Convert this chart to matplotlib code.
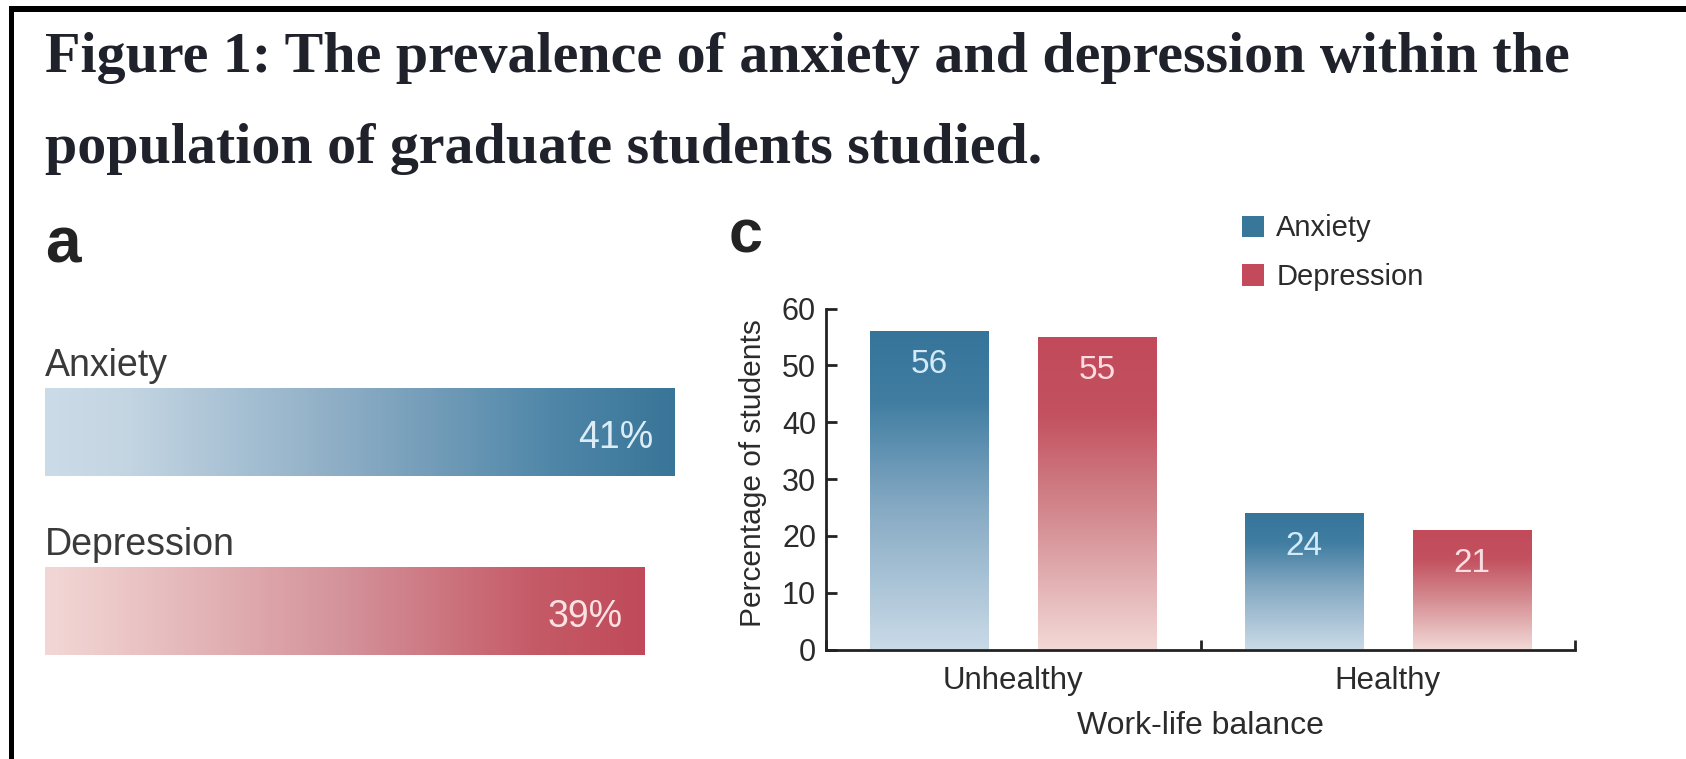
import numpy as np
import matplotlib
matplotlib.use("Agg")
import matplotlib.pyplot as plt
from matplotlib.colors import LinearSegmentedColormap
from matplotlib.patches import Patch, Rectangle
from matplotlib import font_manager as fm

# ---------------- data ----------------
overall_labels = ["Anxiety", "Depression"]
overall_values = [41, 39]

groups = ["Unhealthy", "Healthy"]
anxiety_by_balance = [56, 24]
depression_by_balance = [55, 21]

title_lines = ["Figure 1: The prevalence of anxiety and depression within the",
               "population of graduate students studied."]
y_ticks = [0, 10, 20, 30, 40, 50, 60]

# ---------------- style ----------------
W, H = 1686, 759
names = {f.name for f in fm.fontManager.ttflist}
SANS = "Liberation Sans" if "Liberation Sans" in names else "DejaVu Sans"
SERIF = "Liberation Serif" if "Liberation Serif" in names else "DejaVu Serif"
plt.rcParams["font.family"] = [SANS, "DejaVu Sans"]

BLUE_DARK = "#38769a"
RED_DARK = "#c24a5a"
cm_blue_v = LinearSegmentedColormap.from_list(
    "bv", [(0, "#c9dae7"), (0.45, "#85a9c3"), (0.78, "#407da1"), (1, "#37749a")])
cm_red_v = LinearSegmentedColormap.from_list(
    "rv", [(0, "#f2d8d6"), (0.45, "#d2868c"), (0.75, "#c3515f"), (1, "#c24a5a")])
cm_blue_h = LinearSegmentedColormap.from_list(
    "bh", [(0, "#cbdbe7"), (0.12, "#c5d6e3"), (0.5, "#88aac3"), (0.82, "#4d85a7"), (1, "#397598")])
cm_red_h = LinearSegmentedColormap.from_list(
    "rh", [(0, "#f2d7d6"), (0.12, "#ecc8c8"), (0.5, "#d4929a"), (0.82, "#c55a67"), (1, "#c04a59")])


def fx(px):
    return px / W


def fy(py):
    return 1 - py / H


def grad_fill(ax, patch, cmap, horizontal):
    x0, y0 = patch.get_x(), patch.get_y()
    w, h = patch.get_width(), patch.get_height()
    g = np.linspace(0, 1, 256)
    arr = g[None, :] if horizontal else g[:, None]
    im = ax.imshow(arr, cmap=cmap, extent=(x0, x0 + w, y0, y0 + h), origin="lower",
                   aspect="auto", interpolation="bicubic", zorder=2)
    im.set_clip_path(patch)
    patch.set_facecolor("none")
    patch.set_edgecolor("none")


fig = plt.figure(figsize=(W / 100, H / 100), dpi=100)

# frame lines (top and left)
fig.add_artist(Rectangle((fx(9), fy(12)), 1 - fx(9), 6 / H, transform=fig.transFigure,
                         color="black", lw=0))
fig.add_artist(Rectangle((fx(9), 0), 5 / W, fy(6), transform=fig.transFigure,
                         color="black", lw=0))

# title
t1 = fig.text(fx(45), fy(72), title_lines[0], family=SERIF, fontweight="bold",
              fontsize=40, color="#1f222b", va="baseline", ha="left")
t2 = fig.text(fx(45), fy(163), title_lines[1], family=SERIF, fontweight="bold",
              fontsize=40, color="#1f222b", va="baseline", ha="left")
fig.canvas.draw()
r = fig.canvas.get_renderer()
wpx = t1.get_window_extent(r).width
fs = 40 * 1522 / wpx
t1.set_fontsize(fs)
t2.set_fontsize(fs)

# panel letters
fig.text(fx(45), fy(262), "a", fontweight="bold", fontsize=46,
         color="#232323", va="baseline", ha="left")
fig.text(fx(729), fy(253), "c", fontweight="bold", fontsize=44,
         color="#232323", va="baseline", ha="left")

# ---------------- panel a ----------------
axa = fig.add_axes([fx(45), fy(700.5), 768 / W, 358 / H])
axa.set_xlim(0, 50)
axa.set_ylim(1.5, -0.5)
axa.axis("off")
ypos = np.arange(len(overall_labels))
bars_a = axa.barh(ypos, overall_values, height=0.49, left=0)
for p, cm in zip(bars_a.patches, [cm_blue_h, cm_red_h]):
    grad_fill(axa, p, cm, horizontal=True)
axa.set_xlim(0, 50)
axa.set_ylim(1.5, -0.5)
val_colors_a = ["#dcedf7", "#fbe1e4"]
for i, (lab, v) in enumerate(zip(overall_labels, overall_values)):
    axa.annotate(lab, xy=(0, i), xytext=(0, 47.5), textcoords="offset points",
                 ha="left", va="center", fontsize=27, color="#3a3a3a")
    axa.annotate(f"{v}%", xy=(v, i), xytext=(-15.5, -4.5), textcoords="offset points",
                 ha="right", va="center", fontsize=27, color=val_colors_a[i], zorder=5)

# ---------------- panel c ----------------
axc = fig.add_axes([fx(825.8), fy(649.5), 749.5 / W, 340.9 / H])
centers = np.arange(len(groups)) + 0.5
off, bw = 0.224, 0.315
b1 = axc.bar(centers - off, anxiety_by_balance, width=bw)
b2 = axc.bar(centers + off, depression_by_balance, width=bw)
for p in b1.patches:
    grad_fill(axc, p, cm_blue_v, horizontal=False)
for p in b2.patches:
    grad_fill(axc, p, cm_red_v, horizontal=False)
axc.set_xlim(0, 2)
axc.set_ylim(0, 60)

for bars, vals, col in [(b1, anxiety_by_balance, "#d3ebf8"), (b2, depression_by_balance, "#fbdde1")]:
    for p, v in zip(bars.patches, vals):
        axc.annotate(str(v), xy=(p.get_x() + p.get_width() / 2, v), xytext=(0, -24),
                     textcoords="offset points", ha="center", va="center",
                     fontsize=24, color=col, zorder=5)

for s in ["top", "right"]:
    axc.spines[s].set_visible(False)
for s in ["left", "bottom"]:
    axc.spines[s].set_linewidth(2)
    axc.spines[s].set_color("#222222")
    axc.spines[s].set_zorder(4)

axc.set_yticks(y_ticks)
axc.tick_params(axis="y", direction="in", length=8, width=2, color="#222222",
                labelsize=22, pad=7, labelcolor="#2b2b2b")
axc.set_xticks(centers, labels=groups)
axc.tick_params(axis="x", which="major", length=0, pad=12, labelsize=22.5, labelcolor="#2b2b2b")
axc.set_xticks([0, 1, 2], minor=True)
axc.tick_params(axis="x", which="minor", direction="in", length=7, width=2, color="#222222")

axc.set_ylabel("Percentage of students", fontsize=21.5, color="#2b2b2b", va="center")
axc.yaxis.set_label_coords(-0.097, 0.518)
axc.set_xlabel("Work-life balance", fontsize=23, color="#2b2b2b", va="center")
axc.xaxis.set_label_coords(0.5, -0.224)

handles = [Patch(facecolor=BLUE_DARK, edgecolor="none"), Patch(facecolor=RED_DARK, edgecolor="none")]
axc.legend(handles, ["Anxiety", "Depression"], loc="upper left",
           bbox_to_anchor=(fx(1242), fy(214.5)), bbox_transform=fig.transFigure,
           frameon=False, fontsize=21, handlelength=0.74, handleheight=0.74,
           handletextpad=0.44, labelspacing=0.71, borderpad=0, borderaxespad=0,
           labelcolor="#2b2b2b")

fig.savefig("out.png", dpi=100)
